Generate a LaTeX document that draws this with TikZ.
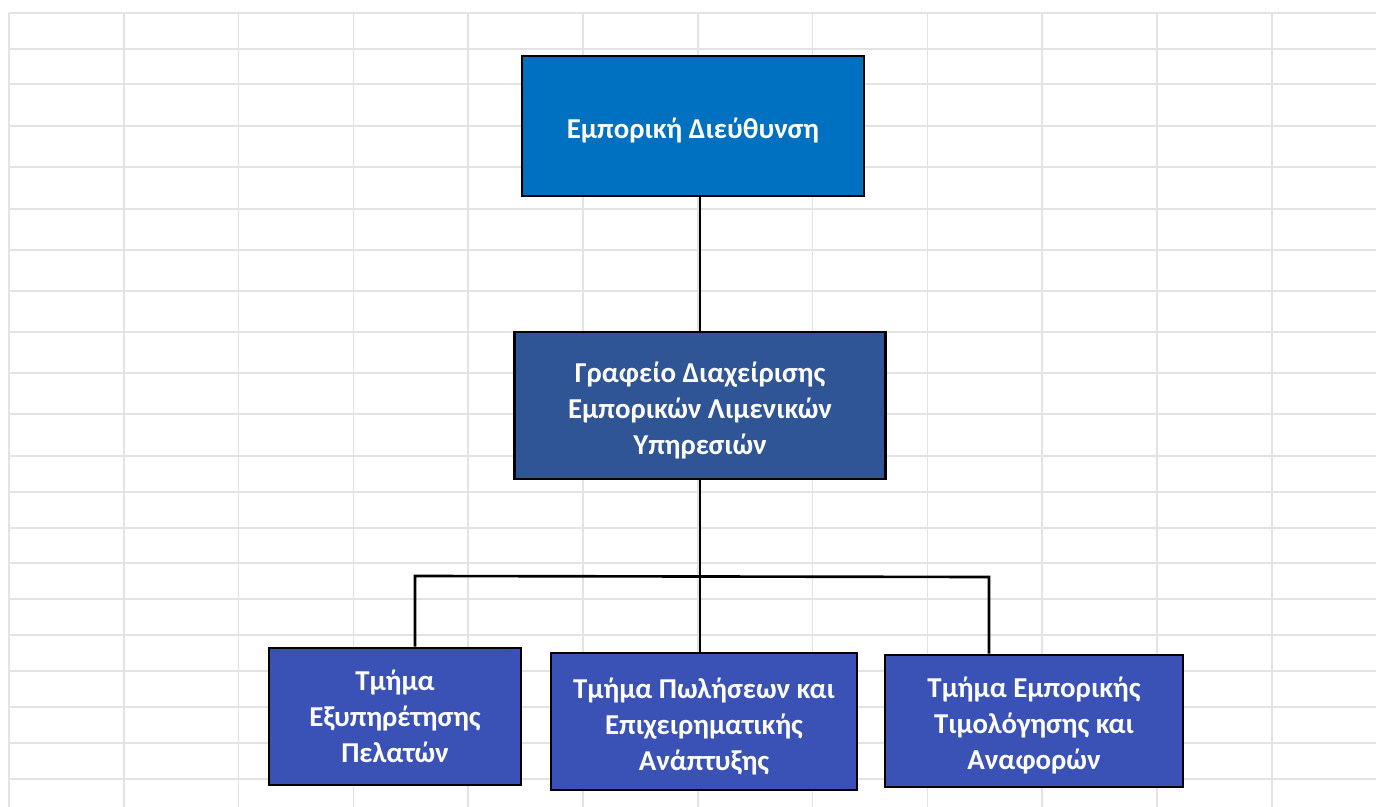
\documentclass[tikz,border=0pt]{standalone}
\usepackage{fontspec}
\setmainfont{Carlito}
\definecolor{topblue}{HTML}{0070C0}
\definecolor{midblue}{HTML}{2F5597}
\definecolor{lowblue}{HTML}{3A52B6}
\begin{document}
\begin{tikzpicture}[x=0.02cm,y=-0.02cm,
  grid/.style={draw=black!11,line width=0.9pt},
  unit/.style={draw=black,line width=1.5pt,align=center,text=white,
    font=\fontsize{16.4}{20.5}\selectfont\bfseries,inner sep=0pt},
  link/.style={line width=1.5pt}]
\useasboundingbox(0,0)rectangle(1376,807);
% spreadsheet grid
\foreach \y in {13,49,84,126,167,209,250,291,332,373,414,456,492,528,563,599,635,671,707,743,779}{\draw[grid](9,\y)--(1376,\y);}
\foreach \i in {0,...,11}{\draw[grid]({9+114.8*\i},13)--({9+114.8*\i},807);}
% boxes
\node[unit,fill=topblue,minimum width=342*0.02cm,minimum height=140*0.02cm](dir)at(693,126){\rule{0pt}{17pt}Εμπορική Διεύθυνση};
\node[unit,fill=midblue,minimum width=371*0.02cm,minimum height=147*0.02cm](office)at(700,405.5){\rule{0pt}{17pt}Γραφείο Διαχείρισης\\Εμπορικών Λιμενικών\\Υπηρεσιών};
\node[unit,fill=lowblue,minimum width=252*0.02cm,minimum height=137*0.02cm](cust)at(395,716.5){Τμήμα\\Εξυπηρέτησης\\Πελατών};
\node[unit,fill=lowblue,minimum width=306*0.02cm,minimum height=137*0.02cm](sales)at(704,721.5){\rule{0pt}{17pt}Τμήμα Πωλήσεων και\\Επιχειρηματικής\\Ανάπτυξης};
\node[unit,fill=lowblue,minimum width=298*0.02cm,minimum height=132*0.02cm](price)at(1034,721){\rule{0pt}{17pt}Τμήμα Εμπορικής\\Τιμολόγησης και\\Αναφορών};
% connectors
\coordinate(barl)at(415,576);
\coordinate(barr)at(989,577);
\draw[link](office.north)--(office.north|-dir.south);
\draw[link](office.south)--(office.south|-sales.north);
\draw[link](barl|-cust.north)--(barl)--(barr)--(barr|-price.north);
\end{tikzpicture}
\end{document}
